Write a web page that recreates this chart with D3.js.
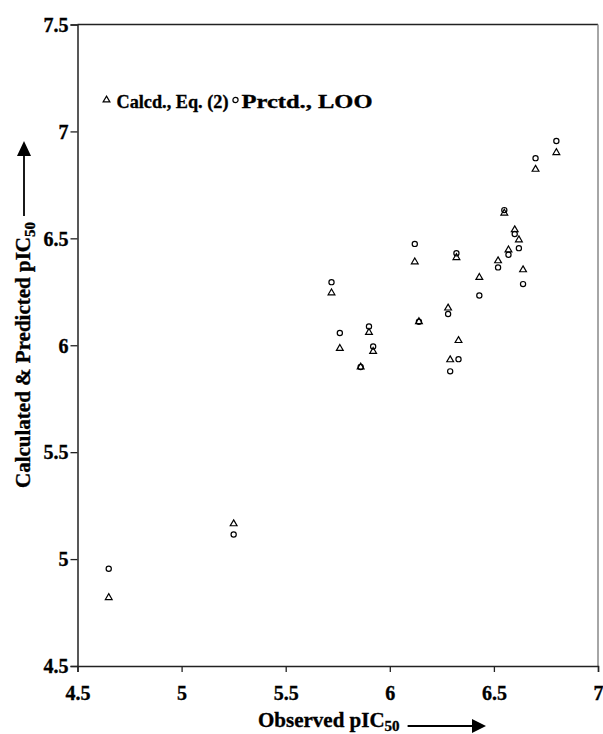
<!DOCTYPE html>
<html>
<head>
<meta charset="utf-8">
<script src="https://cdn.jsdelivr.net/npm/d3@7"></script>
<style>
  body { margin: 0; background: #fff; }
  svg text { font-family: "Liberation Serif", "Times New Roman", serif; font-weight: bold;
             fill: #000; stroke: #000; stroke-width: 0.35px; }
</style>
</head>
<body>
<svg id="viz" width="603" height="734"></svg>
<script>
// observed pIC50 for each compound
let observed = [4.65, 5.25, 5.72, 5.76, 5.86, 5.90, 5.92, 6.12, 6.14, 6.28, 6.29,
                6.33, 6.32, 6.43, 6.52, 6.55, 6.57, 6.60, 6.62, 6.64, 6.70, 6.80];
// calculated with Eq. (2)
let calcd = [4.82, 5.165, 6.245, 5.985, 5.898, 6.06, 5.971, 6.39, 6.11, 6.174, 5.932,
             6.022, 6.41, 6.317, 6.395, 6.618, 6.446, 6.54, 6.493, 6.353, 6.823, 6.901];
// predicted, leave-one-out
let prctd = [4.955, 5.115, 6.295, 6.057, 5.898, 6.088, 5.994, 6.474, 6.11, 6.146, 5.878,
             5.935, 6.43, 6.233, 6.364, 6.632, 6.423, 6.52, 6.454, 6.286, 6.875, 6.955];

let xTicks = [4.5, 5, 5.5, 6, 6.5, 7];
let yTicks = [4.5, 5, 5.5, 6, 6.5, 7, 7.5];
let legendLabels = ["Calcd., Eq. (2)", "Prctd., LOO"];

let svg = d3.select('#viz');

let plotLeft = 77.5, plotRight = 598, plotTop = 24.5, plotBottom = 666;

let x = d3.scaleLinear().domain([4.5, 7]).range([plotLeft, plotRight]);
let y = d3.scaleLinear().domain([4.5, 7.5]).range([plotBottom, plotTop]);

// frame: top and right edges
svg.append('line')
	.attr('x1', plotLeft).attr('x2', plotRight).attr('y1', plotTop).attr('y2', plotTop)
	.attr('stroke', '#222').attr('stroke-width', 1.5);
svg.append('line')
	.attr('x1', plotRight).attr('x2', plotRight).attr('y1', plotTop).attr('y2', plotBottom)
	.attr('stroke', '#888').attr('stroke-width', 1.5);

let fmt = d3.format('');

let xAxis = svg.append('g')
	.attr('transform', `translate(0,${plotBottom})`)
	.call(d3.axisBottom(x).tickValues(xTicks).tickFormat(fmt).tickSizeOuter(0).tickSize(6));
let yAxis = svg.append('g')
	.attr('transform', `translate(${plotLeft},0)`)
	.call(d3.axisLeft(y).tickValues(yTicks).tickFormat(fmt).tickSizeOuter(0).tickSize(7));

[xAxis, yAxis].forEach(g => {
	g.attr('font-family', null).attr('font-size', 20).attr('font-weight', 'bold');
	g.select('.domain').attr('stroke', '#222').attr('stroke-width', 1.5);
	g.selectAll('.tick line').attr('stroke', '#222').attr('stroke-width', 1.3);
	g.selectAll('.tick text')
		.style('font-family', '"Liberation Serif", "Times New Roman", serif', 'important')
		.style('font-size', '20px', 'important')
		.style('font-weight', 'bold', 'important');
});
xAxis.selectAll('.tick text').attr('y', 34).attr('dy', 0);
yAxis.selectAll('.tick text').attr('x', -9).attr('dy', '0.34em');

// points
let rows = observed.map((o, i) => ({obs: o, calc: calcd[i], pred: prctd[i]}));
let tri = d3.symbol().type(d3.symbolTriangle).size(20);

svg.append('g').selectAll('path')
	.data(rows)
	.enter()
	.append('path')
	.attr('d', tri)
	.attr('transform', d => `translate(${x(d.obs)},${y(d.calc)})`)
	.attr('fill', 'none')
	.attr('stroke', '#000')
	.attr('stroke-width', 1.2);

svg.append('g').selectAll('circle')
	.data(rows)
	.enter()
	.append('circle')
	.attr('cx', d => x(d.obs))
	.attr('cy', d => y(d.pred))
	.attr('r', 2.6)
	.attr('fill', 'none')
	.attr('stroke', '#000')
	.attr('stroke-width', 1.2);

// legend
let legend = svg.append('g').attr('transform', 'translate(106.5,100)');
legend.append('path').attr('d', tri)
	.attr('fill', 'none').attr('stroke', '#000').attr('stroke-width', 1.2);
legend.append('text').attr('x', 10).attr('y', 7.5)
	.attr('textLength', 112).attr('lengthAdjust', 'spacingAndGlyphs')
	.style('font-size', '19.5px').text(legendLabels[0]);
legend.append('circle').attr('cx', 129).attr('cy', 0).attr('r', 2.6)
	.attr('fill', 'none').attr('stroke', '#000').attr('stroke-width', 1.2);
legend.append('text').attr('x', 135).attr('y', 7.5)
	.attr('textLength', 131).attr('lengthAdjust', 'spacingAndGlyphs')
	.style('font-size', '19.5px').text(legendLabels[1]);

// axis titles with arrows
function arrowHead(g, path){
	g.append('path').attr('d', path).attr('fill', '#000');
}

let xt = svg.append('text').attr('x', 258).attr('y', 727).style('font-size', '21px');
xt.append('tspan').text('Observed pIC');
xt.append('tspan').attr('dy', 4).style('font-size', '15px').text('50');
let xEnd = 258 + xt.node().getComputedTextLength() + 8;
svg.append('line').attr('x1', xEnd).attr('x2', 474).attr('y1', 726).attr('y2', 726)
	.attr('stroke', '#000').attr('stroke-width', 1.8);
arrowHead(svg, `M472,719L486,726L472,733Z`);

let yg = svg.append('g').attr('transform', 'translate(30,488) rotate(-90)');
let yt = yg.append('text').attr('x', 0).attr('y', 0).style('font-size', '21px');
yt.append('tspan').text('Calculated & Predicted pIC');
yt.append('tspan').attr('dy', 5).style('font-size', '15px').text('50');
let yEnd = yt.node().getComputedTextLength() + 6;
yg.append('line').attr('x1', yEnd).attr('x2', 333).attr('y1', -6).attr('y2', -6)
	.attr('stroke', '#000').attr('stroke-width', 1.8);
arrowHead(yg, `M332,-13L347,-6L332,1Z`);
</script>
</body>
</html>
